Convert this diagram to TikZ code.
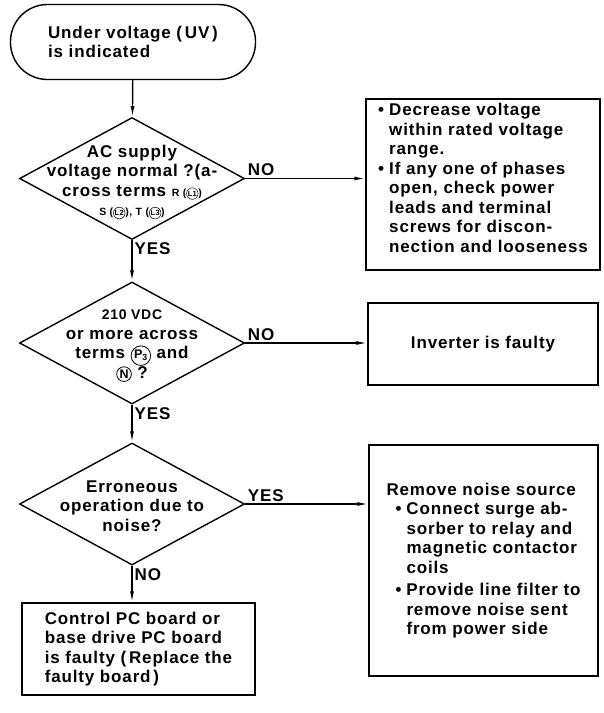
\documentclass[tikz,border=0pt]{standalone}
\usepackage{fontspec}
\setmainfont{Liberation Sans}[LetterSpace=5]
\usetikzlibrary{shapes.geometric, arrows.meta}

\newcommand{\bul}{\makebox[11pt][l]{\textbullet}}
\newcommand{\ind}{\hspace*{11pt}}
\newcommand{\term}[1]{\tikz[baseline=(tc.base)]\node[circle, draw, line width=0.8pt, inner sep=0.8pt, font=\fontsize{12.5}{12.5}\selectfont\bfseries] (tc) {#1};}
\newcommand{\smallterm}[1]{\tikz[baseline=(tc.base)]\node[circle, draw, line width=0.5pt, inner sep=0.4pt, font=\fontsize{7.5}{7.5}\selectfont\bfseries] (tc) {#1};}

\begin{document}
\begin{tikzpicture}[
    x=1pt, y=1pt, line width=1.4pt,
    >={Latex[length=11pt, width=4pt]},
    every node/.style={font=\fontsize{17}{19.5}\selectfont\bfseries},
    terminal/.style={draw, rectangle, rounded corners=37pt, minimum width=245pt, minimum height=75pt, align=left},
    decision/.style={draw, diamond, minimum width=225pt, minimum height=122pt, inner sep=0pt},
    process/.style={draw, rectangle, align=left, inner sep=0pt},
    answer/.style={inner sep=2pt}
]
    \useasboundingbox (0,0) rectangle (604,-713);

    \node[terminal]  (start) at (133,-42)   {Under voltage (\,UV\,)\\is indicated};
    \node[decision]  (d1)    at (132,-178.5) {};
    \node[align=center] (d1t) at (132,-182) {AC supply\\voltage normal ?(a-\\cross terms {\fontsize{10.5}{12}\selectfont R (\smallterm{L1})}\\{\fontsize{10.5}{12}\selectfont S (\smallterm{L2}), T (\smallterm{L3})}};
    \node[process, minimum width=234pt, minimum height=171pt] (fix1) at (483,-184.5)
        {\bul Decrease voltage\\
         \ind within rated voltage\\
         \ind range.\\
         \bul If any one of phases\\
         \ind open, check power\\
         \ind leads and terminal\\
         \ind screws for discon-\\
         \ind nection and looseness\\[-6pt]\mbox{}};

    \node[decision]  (d2)    at (132,-343)  {};
    \node[align=center] (d2t) at (132,-346) {{\fontsize{14}{19.5}\selectfont 210 VDC}\\or more across\\terms \term{P\textsubscript{3}} and\\\term{N} ?};
    \node[process, minimum width=230pt, minimum height=82pt] (fix2) at (483,-344) {Inverter is faulty};

    \node[decision]  (d3)    at (132,-504)  {};
    \node[align=center] (d3t) at (132,-506) {Erroneous\\operation due to\\noise?};
    \node[process, minimum width=229pt, minimum height=231pt] (fix3) at (483.5,-560.5)
        {Remove noise source\\
         \hspace*{9pt}\bul Connect surge ab-\\
         \hspace*{9pt}\ind sorber to relay and\\
         \hspace*{9pt}\ind magnetic contactor\\
         \hspace*{9pt}\ind coils\\[3pt]
         \hspace*{9pt}\bul Provide line filter to\\
         \hspace*{9pt}\ind remove noise sent\\
         \hspace*{9pt}\ind from power side};
    \node[process, minimum width=233pt, minimum height=92pt] (fix4) at (138.5,-649)
        {Control PC board or\\base drive PC board\\is faulty (\,Replace the\\faulty board\,)};

    % main column
    \draw[->] (start) -- (d1);
    \draw[->] (d1.south) -- node[answer, pos=0, anchor=north west] {YES} (d2.north);
    \draw[->] (d2.south) -- node[answer, pos=0, anchor=north west] {YES} (d3.north);
    \draw[->] (d3.south) -- node[answer, pos=0, anchor=north west] {NO} (d3.south |- fix4.north);

    % branches to the right
    \draw[->] (d1.east) -- node[answer, pos=0, anchor=south west] {NO} (d1.east -| fix1.west);
    \draw[->] (d2.east) -- node[answer, pos=0, anchor=south west] {NO} (d2.east -| fix2.west);
    \draw[->] (d3.east) -- node[answer, pos=0, anchor=south west] {YES} (d3.east -| fix3.west);
\end{tikzpicture}
\end{document}
